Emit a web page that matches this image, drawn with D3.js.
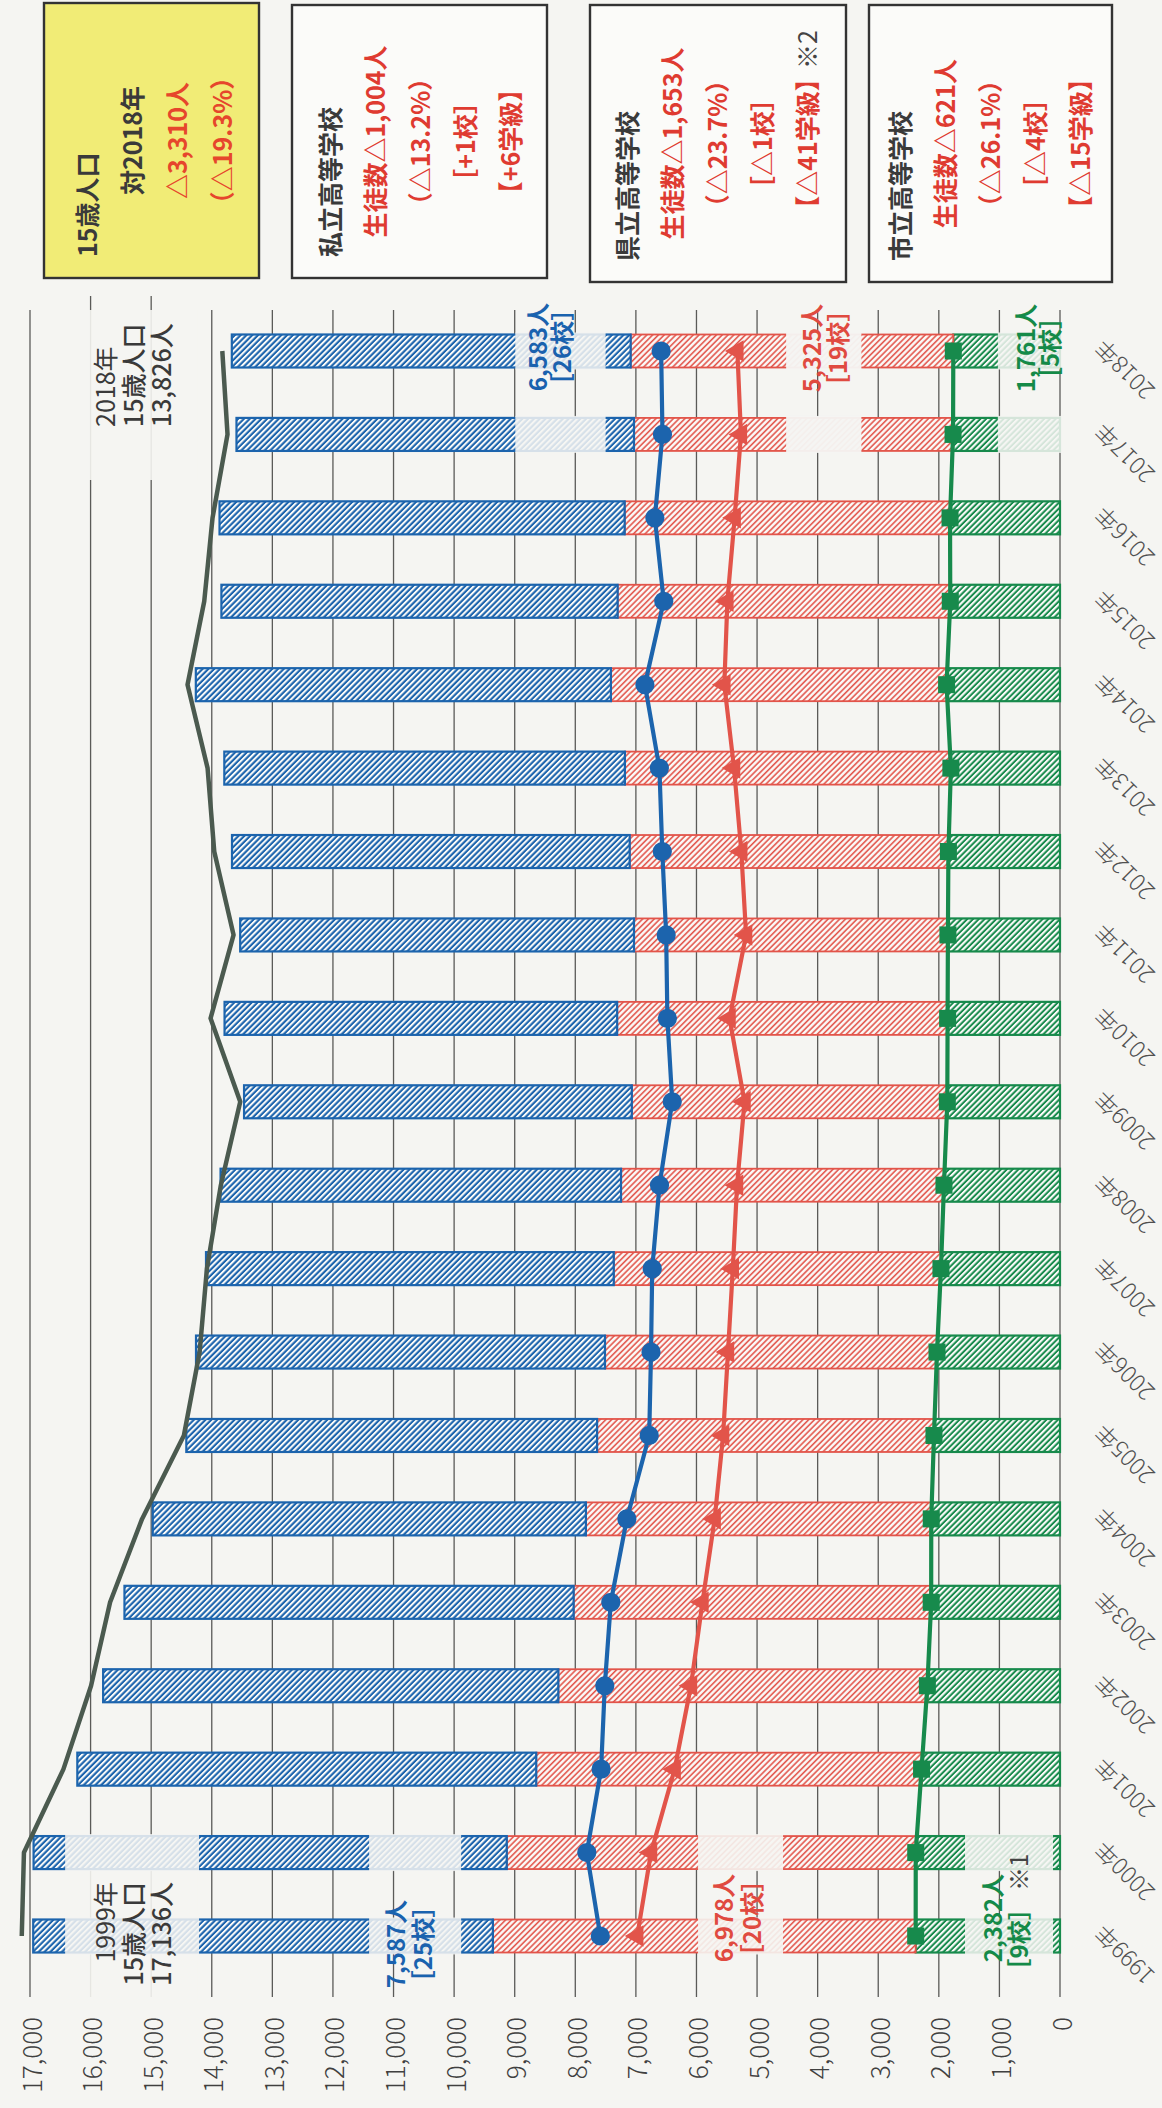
<!DOCTYPE html>
<html>
<head>
<meta charset="utf-8">
<script src="https://cdn.jsdelivr.net/npm/d3@7"></script>
<style>
  html, body { margin: 0; padding: 0; background: #f5f5f2; }
  svg { display: block; }
</style>
</head>
<body>
<svg id="chart" width="1162" height="2108"></svg>
<script>
// ---- data -------------------------------------------------------------
const years = [1999, 2000, 2001, 2002, 2003, 2004, 2005, 2006, 2007, 2008,
               2009, 2010, 2011, 2012, 2013, 2014, 2015, 2016, 2017, 2018];
// 15歳人口
const population = [17136, 17100, 16448, 15992, 15678, 15150, 14460, 14200, 14080, 13850,
                    13530, 14020, 13640, 13959, 14069, 14400, 14124, 13987, 13740, 13826];
// 私立高等学校 生徒数
const privateStudents = [7587, 7810, 7574, 7513, 7414, 7149, 6780, 6750, 6730, 6610,
                         6400, 6480, 6500, 6564, 6612, 6851, 6540, 6687, 6561, 6583];
// 県立高等学校 生徒数
const prefecturalStudents = [6978, 6750, 6360, 6091, 5901, 5700, 5560, 5480, 5400, 5330,
                             5207, 5454, 5181, 5260, 5380, 5540, 5490, 5370, 5266, 5325];
// 市立高等学校 生徒数
const municipalStudents = [2382, 2381, 2285, 2189, 2126, 2125, 2080, 2030, 1965, 1915,
                           1860, 1855, 1850, 1842, 1801, 1872, 1811, 1815, 1765, 1761];
const valueTicks = d3.range(0, 17001, 1000);
const yearLabels = years.map(y => y + "年");

const summaryTitles = ["15歳人口", "私立高等学校", "県立高等学校", "市立高等学校"];
const summaryLines = [
  ["対2018年", "△3,310人", "（△19.3%）"],
  ["生徒数△1,004人", "（△13.2%）", "［+1校］", "【+6学級】"],
  ["生徒数△1,653人", "（△23.7%）", "［△1校］", "【△41学級】"],
  ["生徒数△621人", "（△26.1%）", "［△4校］", "【△15学級】"]
];
const firstLabels = { private: ["7,587人", "［25校］"], prefectural: ["6,978人", "［20校］"], municipal: ["2,382人", "［9校］"] };
const lastLabels  = { private: ["6,583人", "［26校］"], prefectural: ["5,325人", "［19校］"], municipal: ["1,761人", "［5校］"] };
const popFirstLabel = ["1999年", "15歳人口", "17,136人"];
const popLastLabel  = ["2018年", "15歳人口", "13,826人"];

// ---- setup ------------------------------------------------------------
const W = 1162, H = 2108;
const FONT = "'Noto Sans CJK JP', 'Noto Sans', sans-serif";
const C = {
  paper: "#f5f5f2",
  grid: "#5a5a58",
  blue: "#1c64ad",
  red: "#e2544a",
  redText: "#df3b31",
  green: "#178a4c",
  pop: "#4b5a4f",
  text: "#3a3a3a",
  yellow: "#f1ec76"
};

const svg = d3.select("#chart");
svg.append("rect").attr("width", W).attr("height", H).attr("fill", C.paper);

// hatch patterns
const defs = svg.append("defs");
function hatch(id, color, sw) {
  const p = defs.append("pattern").attr("id", id)
    .attr("patternUnits", "userSpaceOnUse")
    .attr("width", 4.1).attr("height", 4.1)
    .attr("patternTransform", "rotate(-45)");
  p.append("rect").attr("width", 4.1).attr("height", 4.1).attr("fill", "#fbfbf9");
  p.append("line").attr("x1", 1).attr("y1", -1).attr("x2", 1).attr("y2", 6)
    .attr("stroke", color).attr("stroke-width", sw);
}
hatch("hatch-private", C.blue, 2.2);
hatch("hatch-prefectural", C.red, 1.6);
hatch("hatch-municipal", C.green, 2.0);

// the whole chart is laid out on its side: the group is turned a quarter turn
// so the value axis runs across the page and the years run down it
const g = svg.append("g").attr("transform", `translate(0,${H}) rotate(-90)`);

const x = d3.scalePoint().domain(years).range([172, 1757]);
const y = d3.scaleLinear().domain([0, 17000]).range([1060, 30]);
const barW = 35;

// ---- grid ---------------------------------------------------------------
g.append("g").selectAll("line").data(valueTicks).join("line")
  .attr("x1", 111).attr("x2", d => (d === 16000 || d === 15000) ? 1812 : 1798)
  .attr("y1", d => y(d)).attr("y2", d => y(d))
  .attr("stroke", C.grid).attr("stroke-width", 1.3);

// value axis labels
g.append("g").selectAll("text").data(valueTicks).join("text")
  .attr("x", 91).attr("y", d => y(d))
  .attr("text-anchor", "end").attr("dominant-baseline", "central")
  .attr("font-family", FONT).attr("font-size", 26).attr("font-weight", 300)
  .attr("fill", "#404040")
  .text(d3.format(","));

// year labels
g.append("g").selectAll("text").data(years).join("text")
  .attr("transform", d => `translate(${x(d) + 6},${1098}) rotate(-45)`)
  .attr("text-anchor", "end").attr("dominant-baseline", "central")
  .attr("font-family", FONT).attr("font-size", 23).attr("font-weight", 300)
  .attr("fill", "#505050")
  .text((d, i) => yearLabels[i]);

// backdrops behind the population captions
const popBoxes = [
  { x0: 108, x1: 272 },
  { x0: 1628, x1: 1798 }
];
g.append("g").selectAll("rect").data(popBoxes).join("rect")
  .attr("x", d => d.x0).attr("width", d => d.x1 - d.x0)
  .attr("y", y(16450)).attr("height", y(14240) - y(16450))
  .attr("fill", C.paper).attr("opacity", 0.9);

// ---- stacked bars -------------------------------------------------------
const rows = years.map((yr, i) => ({
  year: yr,
  municipal: municipalStudents[i],
  prefectural: prefecturalStudents[i],
  private: privateStudents[i]
}));
const keys = ["municipal", "prefectural", "private"];
const colorOf = { municipal: C.green, prefectural: C.red, private: C.blue };
const stacked = d3.stack().keys(keys)(rows);

const barG = g.append("g");
stacked.forEach(layer => {
  barG.append("g").selectAll("rect").data(layer).join("rect")
    .attr("x", d => x(d.data.year) - barW / 2 + 1)
    .attr("width", barW - 2)
    .attr("y", d => y(d[1]))
    .attr("height", d => y(d[0]) - y(d[1]))
    .attr("fill", `url(#hatch-${layer.key})`)
    .attr("stroke", colorOf[layer.key])
    .attr("stroke-width", layer.key === "prefectural" ? 1.8 : 2.2);
});

// light windows cut into the first two and last two bars where captions sit
const windows = [
  { years: [1999, 2000], from: 14210, to: 16420, op: 0.86 },
  { years: [1999, 2000], from: 9884, to: 11403, op: 0.86 },
  { years: [1999, 2000], from: 4571, to: 5974, op: 0.9 },
  { years: [1999, 2000], from: 115, to: 1568, op: 0.86 },
  { years: [2017, 2018], from: 7500, to: 8990, op: 0.86 },
  { years: [2017, 2018], from: 3278, to: 4520, op: 0.96 },
  { years: [2017, 2018], from: -60, to: 1026, op: 0.86 }
];
windows.forEach(w => {
  g.append("g").selectAll("rect").data(w.years).join("rect")
    .attr("x", d => x(d) - barW / 2 - 1).attr("width", barW + 2)
    .attr("y", y(w.to)).attr("height", y(w.from) - y(w.to))
    .attr("fill", C.paper).attr("opacity", w.op);
});

// ---- lines --------------------------------------------------------------
const line = d3.line().x(d => x(d[0])).y(d => y(d[1]));
const popPts = years.map((yr, i) => [yr, population[i]]);
g.append("path").attr("d", line(popPts))
  .attr("fill", "none").attr("stroke", C.pop).attr("stroke-width", 4.5)
  .attr("stroke-linejoin", "round");

const seriesDefs = [
  { key: "private", values: privateStudents, color: C.blue, symbol: d3.symbolCircle, size: 290 },
  { key: "prefectural", values: prefecturalStudents, color: C.red, symbol: d3.symbolTriangle, size: 200 },
  { key: "municipal", values: municipalStudents, color: C.green, symbol: d3.symbolSquare, size: 290 }
];
seriesDefs.forEach(s => {
  const pts = years.map((yr, i) => [yr, s.values[i]]);
  g.append("path").attr("d", line(pts))
    .attr("fill", "none").attr("stroke", s.color).attr("stroke-width", 4.2)
    .attr("stroke-linejoin", "round");
  g.append("g").selectAll("path").data(pts).join("path")
    .attr("transform", d => `translate(${x(d[0])},${y(d[1])})`)
    .attr("d", d3.symbol().type(s.symbol).size(s.size))
    .attr("fill", s.color);
});

// ---- value captions ------------------------------------------------------
const capColor = { private: "#1a62ae", prefectural: "#e04a40", municipal: "#148a48" };
function caption(lines, cx, ys, color, extra) {
  const t = g.append("g").attr("font-family", FONT).attr("font-size", 24)
    .attr("font-weight", 700).attr("fill", color).attr("text-anchor", "middle");
  lines.forEach((s, i) => {
    const tx = t.append("text").attr("x", cx).attr("y", ys[i])
      .attr("dominant-baseline", "central").text(s);
    if (extra && i === lines.length - 1) {
      tx.append("tspan").attr("font-weight", 400).attr("fill", "#444").text(" ※1");
    }
  });
}
caption(firstLabels.private, x(1999) - 8, [394, 421], capColor.private);
caption(firstLabels.prefectural, x(1999) + 18, [722, 750], capColor.prefectural);
caption(firstLabels.municipal, x(1999) + 18, [991, 1017], capColor.municipal, true);
caption(lastLabels.private, x(2018) + 4, [536, 560], capColor.private);
caption(lastLabels.prefectural, x(2018) + 3, [810, 836], capColor.prefectural);
caption(lastLabels.municipal, x(2018) + 3, [1024, 1048], capColor.municipal);

// population captions
function popCaption(lines, ax, anchor) {
  const t = g.append("g").attr("font-family", FONT).attr("font-size", 25)
    .attr("fill", C.text).attr("text-anchor", anchor);
  const ys = [104, 132, 160];
  lines.forEach((s, i) => {
    t.append("text").attr("x", ax).attr("y", ys[i])
      .attr("dominant-baseline", "central")
      .attr("font-weight", i === 0 ? 400 : 500).text(s);
  });
}
popCaption(popFirstLabel, 226, "end");
popCaption(popLastLabel, 1681, "start");

// ---- summary boxes ------------------------------------------------------
const boxes = [
  { x0: 1830, x1: 2105, y0: 44, y1: 259, fill: C.yellow, first: 42 },
  { x0: 1830, x1: 2103, y0: 292, y1: 547, fill: "#fbfbf9", first: 37 },
  { x0: 1826, x1: 2103, y0: 590, y1: 846, fill: "#fbfbf9", first: 36 },
  { x0: 1826, x1: 2103, y0: 869, y1: 1112, fill: "#fbfbf9", first: 30 }
];
boxes.forEach((b, bi) => {
  const bg = g.append("g").attr("font-family", FONT).attr("font-size", 25).attr("font-weight", 700);
  bg.append("rect").attr("x", b.x0).attr("y", b.y0)
    .attr("width", b.x1 - b.x0).attr("height", b.y1 - b.y0)
    .attr("fill", b.fill).attr("stroke", "#333").attr("stroke-width", 2.4);
  bg.append("text").attr("x", b.x0 + 21).attr("y", b.y0 + b.first)
    .attr("dominant-baseline", "central").attr("fill", C.text)
    .text(summaryTitles[bi]);
  summaryLines[bi].forEach((s, li) => {
    const dark = bi === 0 && li === 0;
    bg.append("text").attr("x", (b.x0 + b.x1) / 2).attr("y", b.y0 + b.first + 45 * (li + 1))
      .attr("text-anchor", "middle").attr("dominant-baseline", "central")
      .attr("fill", dark ? C.text : (bi === 0 ? "#e6462c" : C.redText))
      .text(s);
  });
  if (bi === 2) {
    bg.append("text").attr("x", 2078).attr("y", b.y0 + b.first + 45 * 4)
      .attr("text-anchor", "end").attr("dominant-baseline", "central")
      .attr("font-weight", 400).attr("fill", "#444").text("※2");
  }
});
</script>
</body>
</html>
